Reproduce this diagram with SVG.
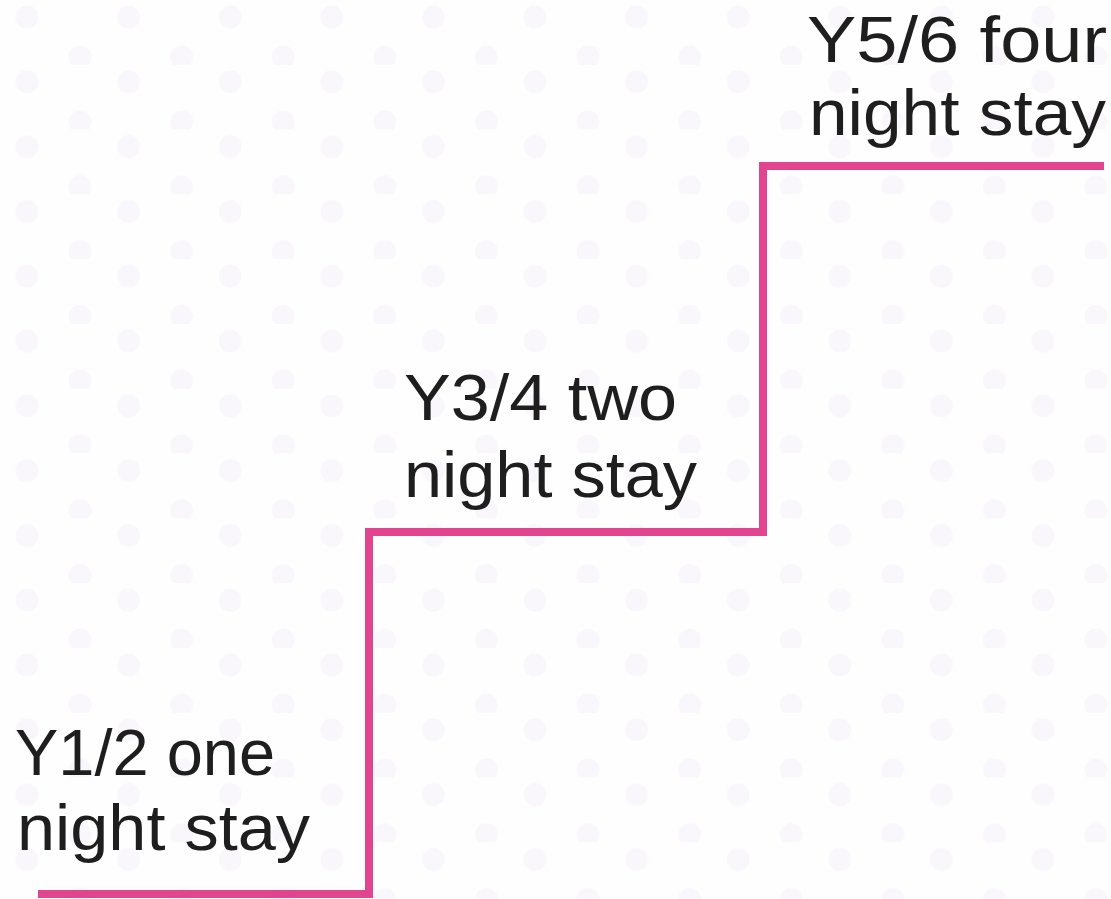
<svg xmlns="http://www.w3.org/2000/svg" width="1111" height="899" viewBox="0 0 1111 899">
  <style>
    .lbl { font-family: "Liberation Sans", Arial, sans-serif; font-size: 64px; fill: #1e1e1e; }
    .step { fill: none; stroke: #e2458f; stroke-width: 8; stroke-linejoin: miter; stroke-linecap: butt; }
  </style>
  <defs>
    <pattern id="dots" patternUnits="userSpaceOnUse" x="0" y="0" width="101.6" height="64.8">
      <circle cx="27" cy="17" r="11.5" fill="#f9f7fb"/>
      <circle cx="80" cy="57" r="11.5" fill="#f9f7fb"/>
    </pattern>
  </defs>
  <rect id="background" x="0" y="0" width="1111" height="899" fill="#fefefe"/>
  <rect id="dot-pattern" x="0" y="0" width="1111" height="899" fill="url(#dots)"/>
  <g id="connectors">
    <path class="step" d="M38,894 H369 V532 H763 V166 H1104"/>
  </g>
  <g id="step1">
    <text class="lbl" x="15" y="775" textLength="260" lengthAdjust="spacingAndGlyphs">Y1/2 one</text>
    <text class="lbl" x="17" y="850" textLength="293" lengthAdjust="spacingAndGlyphs">night stay</text>
  </g>
  <g id="step2">
    <text class="lbl" x="404" y="420" textLength="273" lengthAdjust="spacingAndGlyphs">Y3/4 two</text>
    <text class="lbl" x="404" y="497" textLength="293" lengthAdjust="spacingAndGlyphs">night stay</text>
  </g>
  <g id="step3">
    <text class="lbl" x="807" y="62" textLength="300" lengthAdjust="spacingAndGlyphs">Y5/6 four</text>
    <text class="lbl" x="809" y="135" textLength="297" lengthAdjust="spacingAndGlyphs">night stay</text>
  </g>
</svg>
